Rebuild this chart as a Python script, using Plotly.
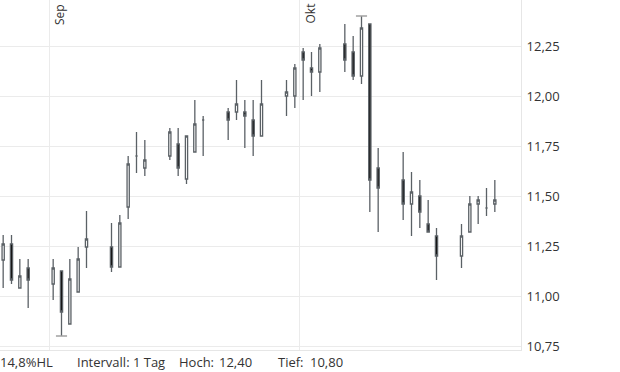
import pandas as pd
import plotly.graph_objects as go

dates = ["2025-08-26", "2025-08-27", "2025-08-28", "2025-08-29",
         "2025-09-01", "2025-09-02", "2025-09-03", "2025-09-04", "2025-09-05",
         "2025-09-08", "2025-09-09", "2025-09-10", "2025-09-11", "2025-09-12",
         "2025-09-15", "2025-09-16", "2025-09-17", "2025-09-18", "2025-09-19",
         "2025-09-22", "2025-09-23", "2025-09-24", "2025-09-25", "2025-09-26",
         "2025-09-29", "2025-09-30", "2025-10-01", "2025-10-02", "2025-10-03",
         "2025-10-06", "2025-10-07", "2025-10-08", "2025-10-09", "2025-10-10",
         "2025-10-13", "2025-10-14", "2025-10-15", "2025-10-16", "2025-10-17",
         "2025-10-20", "2025-10-21", "2025-10-22", "2025-10-23", "2025-10-24"]
opens = [11.18, 11.26, 11.04, 11.14,
         11.06, 11.125, 10.86, 11.02, 11.245,
         11.245, 11.145, 11.445, 11.70, 11.64,
         11.70, 11.76, 11.585, 11.72, 11.88,
         11.92, 11.92, 11.92, 11.88, 11.80,
         12.00, 12.00, 12.22, 12.14, 12.12,
         12.26, 12.22, 12.10, 12.36, 11.64,
         11.58, 11.46, 11.50, 11.36, 11.30,
         11.20, 11.32, 11.46, 11.44, 11.46]
highs = [11.305, 11.305, 11.185, 11.185,
         11.185, 11.125, 11.185, 11.245, 11.425,
         11.365, 11.405, 11.70, 11.82, 11.78,
         11.84, 11.84, 11.80, 11.98, 11.90,
         11.94, 12.08, 11.98, 11.98, 12.08,
         12.08, 12.16, 12.24, 12.22, 12.26,
         12.36, 12.30, 12.40, 12.36, 11.74,
         11.72, 11.62, 11.58, 11.48, 11.34,
         11.36, 11.50, 11.50, 11.54, 11.58]
lows = [11.04, 11.06, 11.04, 10.94,
        10.98, 10.80, 10.86, 11.02, 11.14,
        11.12, 11.145, 11.385, 11.615, 11.60,
        11.68, 11.60, 11.56, 11.72, 11.70,
        11.78, 11.88, 11.74, 11.70, 11.80,
        11.90, 11.94, 11.98, 12.00, 12.02,
        12.12, 12.08, 12.06, 11.42, 11.32,
        11.38, 11.30, 11.34, 11.32, 11.08,
        11.14, 11.32, 11.36, 11.40, 11.42]
closes = [11.26, 11.08, 11.10, 11.08,
          11.14, 10.92, 11.085, 11.185, 11.285,
          11.145, 11.365, 11.66, 11.70, 11.68,
          11.82, 11.64, 11.80, 11.86, 11.88,
          11.88, 11.96, 11.90, 11.80, 11.96,
          12.02, 12.14, 12.18, 12.12, 12.24,
          12.18, 12.10, 12.34, 11.58, 11.54,
          11.46, 11.52, 11.42, 11.32, 11.20,
          11.30, 11.46, 11.48, 11.44, 11.48]

month_ticks = ["2025-09-01", "2025-10-01"]
month_labels = ["Sep", "Okt"]
y_ticks = [10.75, 11.00, 11.25, 11.50, 11.75, 12.00, 12.25]

df = pd.DataFrame({"d": pd.to_datetime(dates) + pd.Timedelta(hours=12),
                   "o": opens, "h": highs, "l": lows, "c": closes})

WICK = "#5b6166"
TXT = "#333333"
GRID = "#ebebeb"
FONT = "Open Sans"

fig = go.Figure()
fig.add_trace(go.Candlestick(
    x=df["d"], open=df["o"], high=df["h"], low=df["l"], close=df["c"],
    increasing=dict(line=dict(color=WICK, width=1.3), fillcolor="#ffffff"),
    decreasing=dict(line=dict(color=WICK, width=1.3), fillcolor="#111111"),
    whiskerwidth=0, showlegend=False, hoverinfo="skip"))

# high / low markers
imax = df["h"].idxmax()
imin = df["l"].idxmin()
half = pd.Timedelta(hours=16)
for i, col in [(imax, "h"), (imin, "l")]:
    fig.add_trace(go.Scatter(
        x=[df["d"][i] - half, df["d"][i] + half], y=[df[col][i], df[col][i]],
        mode="lines", line=dict(color="#a0a0a0", width=1.5),
        showlegend=False, hoverinfo="skip"))

hi = df["h"].max()
lo = df["l"].min()
hl = (hi - lo) / lo * 100

def de(v, n=2):
    return f"{v:.{n}f}".replace(".", ",")

x0 = pd.Timestamp("2025-09-01") - pd.Timedelta(days=5.88)
x1 = x0 + pd.Timedelta(days=62.52)

PW = 521  # plot width in px

fig.update_layout(
    width=620, height=372,
    margin=dict(l=0, r=99, t=0, b=22),
    paper_bgcolor="white", plot_bgcolor="white",
    separators=",.",
    boxgap=0.62,
    font=dict(family=FONT, size=13, color=TXT),
    showlegend=False,
    xaxis=dict(type="date", range=[x0, x1], rangeslider=dict(visible=False),
               tickvals=month_ticks, showticklabels=False, showgrid=True,
               gridcolor=GRID, gridwidth=1, zeroline=False,
               showline=True, linecolor="#e6e6e6", linewidth=1, ticks=""),
    yaxis=dict(side="right", range=[10.73, 12.48], tickvals=y_ticks,
               tickformat=".2f", showgrid=True, gridcolor=GRID, gridwidth=1,
               zeroline=False, showline=True, linecolor="#e6e6e6", linewidth=1,
               ticks="outside", ticklen=2, tickcolor="rgba(0,0,0,0)",
               tickfont=dict(family=FONT, size=13, color=TXT)),
)

for d, lab in zip(month_ticks, month_labels):
    fig.add_annotation(x=d, xref="x", y=1, yref="paper", text=lab,
                       textangle=-90, xanchor="left", yanchor="top",
                       xshift=0, yshift=-2, showarrow=False,
                       font=dict(family=FONT, size=12, color=TXT))

bottom = [(0, f"{de(hl, 1)}%HL"), (77, "Intervall: 1 Tag"), (179, "Hoch:"),
          (219, de(hi)), (278, "Tief:"), (310, de(lo))]
for px, t in bottom:
    fig.add_annotation(x=px / PW, xref="paper", y=-12 / 350, yref="paper",
                       text=t, xanchor="left", yanchor="middle",
                       showarrow=False, xshift=-2,
                       font=dict(family=FONT, size=13, color=TXT))

fig.write_html("out.html")
